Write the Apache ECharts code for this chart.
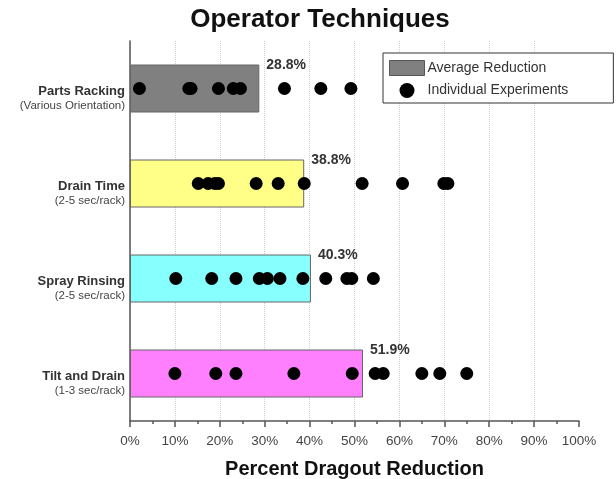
<!DOCTYPE html>
<html>
<head>
<meta charset="utf-8">
<script src="https://cdn.jsdelivr.net/npm/echarts@6/dist/echarts.min.js"></script>
<style>
  html, body { margin: 0; padding: 0; background: #fff; }
  #myChart { width: 616px; height: 479px; }
</style>
</head>
<body>
<div id="myChart"></div>
<script>
// categories, top to bottom
const categories = ['Parts Racking', 'Drain Time', 'Spray Rinsing', 'Tilt and Drain']
const subLabels = ['(Various Orientation)', '(2-5 sec/rack)', '(2-5 sec/rack)', '(1-3 sec/rack)']
// average reduction (%)
const averages = [28.8, 38.8, 40.3, 51.9]
// individual experiments (%)
const partsRacking = [2.1, 13.1, 13.6, 19.7, 23.0, 24.6, 34.4, 42.5, 49.2]
const drainTime = [15.2, 17.4, 18.9, 19.7, 28.1, 33.0, 38.8, 51.7, 60.7, 69.9, 70.8]
const sprayRinsing = [10.2, 18.2, 23.6, 28.8, 30.6, 33.4, 38.5, 43.6, 48.3, 49.4, 54.2]
const tiltAndDrain = [10.0, 19.1, 23.6, 36.5, 49.5, 54.6, 56.4, 65.0, 69.0, 75.0]
const xTicks = [0, 10, 20, 30, 40, 50, 60, 70, 80, 90, 100]

const barColors = ['#808080', '#ffff88', '#88ffff', '#ff80ff']
const font = "'Liberation Sans', Arial, sans-serif"

const experiments = [partsRacking, drainTime, sprayRinsing, tiltAndDrain]
const scatterData = []
experiments.forEach((list, i) => {
  list.forEach(v => scatterData.push([v, categories[i]]))
})

const myChart = echarts.init(document.getElementById('myChart'))
const option = {
  animation: false,
  textStyle: { fontFamily: font },
  title: {
    text: 'Operator Techniques',
    left: 315,
    textAlign: 'center',
    top: 2,
    textStyle: { fontFamily: font, fontSize: 26, fontWeight: 'bold', color: '#111' }
  },
  legend: {
    orient: 'vertical',
    left: 383,
    top: 53,
    padding: [7, 45, 5, 6],
    itemWidth: 35,
    itemHeight: 15,
    itemGap: 7,
    backgroundColor: '#fff',
    borderColor: '#333',
    borderWidth: 1,
    textStyle: { fontFamily: font, fontSize: 14, color: '#333', padding: [0, 0, 0, -2] },
    data: [
      { name: 'Average Reduction', icon: 'rect', itemStyle: { color: '#808080', borderColor: '#555', borderWidth: 1 } },
      { name: 'Individual Experiments', icon: 'circle', itemStyle: { color: '#000' } }
    ]
  },
  grid: { left: 130, right: 37, top: 41, bottom: 58, outerBoundsMode: 'none' },
  xAxis: {
    type: 'value',
    min: xTicks[0],
    max: xTicks[xTicks.length - 1],
    interval: 10,
    name: 'Percent Dragout Reduction',
    nameLocation: 'middle',
    nameGap: 38,
    nameTextStyle: { fontFamily: font, fontSize: 20, fontWeight: 'bold', color: '#111' },
    axisLine: { show: true, lineStyle: { color: '#555', width: 1.5 } },
    axisTick: { show: true, length: 6, lineStyle: { color: '#555', width: 1.5 } },
    minorTick: { show: true, splitNumber: 2, length: 3, lineStyle: { color: '#555', width: 1.5 } },
    axisLabel: { formatter: '{value}%', fontSize: 13.5, color: '#444', margin: 13 },
    splitLine: {
      show: true,
      showMaxLine: false,
      lineStyle: { color: '#cfcfcf', type: 'dotted' }
    }
  },
  yAxis: {
    type: 'category',
    inverse: true,
    data: categories,
    axisLine: { show: true, lineStyle: { color: '#555', width: 1.5 } },
    axisTick: { show: false },
    splitLine: { show: false },
    axisLabel: {
      margin: 5,
      align: 'right',
      padding: [20, 0, 0, 0],
      formatter: function(value, idx) {
        return '{a|' + value + '}\n{b|' + subLabels[idx] + '}'
      },
      rich: {
        a: { fontFamily: font, fontSize: 13, fontWeight: 'bold', color: '#333', lineHeight: 14, align: 'right' },
        b: { fontFamily: font, fontSize: 11.5, color: '#444', lineHeight: 14, align: 'right' }
      }
    }
  },
  series: [
    {
      name: 'Average Reduction',
      type: 'bar',
      barWidth: 48,
      itemStyle: { color: '#808080', borderColor: '#666', borderWidth: 1 },
      data: averages.map((v, i) => ({ value: v, itemStyle: { color: barColors[i] } })),
      label: {
        show: true,
        position: 'right',
        distance: 7,
        offset: [0, -23],
        formatter: '{c}%',
        fontFamily: font,
        fontSize: 14,
        fontWeight: 'bold',
        color: '#333'
      },
      z: 2
    },
    {
      name: 'Individual Experiments',
      type: 'scatter',
      symbol: 'circle',
      symbolSize: 13,
      itemStyle: { color: '#000', opacity: 1 },
      data: scatterData,
      z: 3
    }
  ]
}
myChart.setOption(option)
</script>
</body>
</html>
